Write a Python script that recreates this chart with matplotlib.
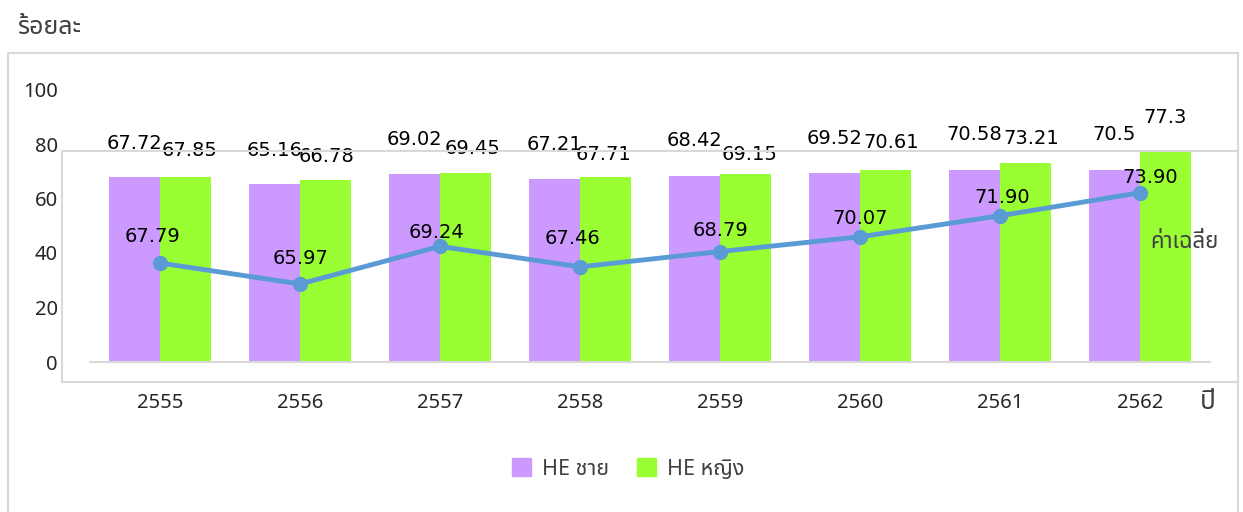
import matplotlib
matplotlib.use("Agg")
import matplotlib.pyplot as plt
from matplotlib.patches import Rectangle
import numpy as np

# data
years = ['2555', '2556', '2557', '2558', '2559', '2560', '2561', '2562']
he_male = [67.72, 65.16, 69.02, 67.21, 68.42, 69.52, 70.58, 70.5]
he_female = [67.85, 66.78, 69.45, 67.71, 69.15, 70.61, 73.21, 77.3]
average = [67.79, 65.97, 69.24, 67.46, 68.79, 70.07, 71.90, 73.90]
avg_labels = ['67.79', '65.97', '69.24', '67.46', '68.79', '70.07', '71.90', '73.90']

# label offsets in pixels (dx, dy above the mark)
male_dy = [34, 34, 34, 34, 35, 34, 35, 35]
female_dx = [4, 1, 7, -2, 4, 6, 6, 0]
female_dy = [27, 24, 24, 23, 19, 27, 24, 34]
avg_dx = [-7, 1, -4, -7, 0, 0, 2, 10]
avg_dy = [27, 25, 14, 28, 21, 18, 18, 15]

W, H = 1243, 512
THAI = ['Noto Sans Thai', 'DejaVu Sans']
LBL = ['DejaVu Sans']
TXT = '#404040'
GRID = '#d9d9d9'

fig = plt.figure(figsize=(W / 100, H / 100), dpi=100)

def fx(x):
    return x / W

def fy(y):
    return 1 - y / H

# frames round the chart and the plot area
fig.patches.append(Rectangle((fx(8), fy(530)), fx(1230), 477 / H, fill=False,
                             edgecolor=GRID, lw=1.5, transform=fig.transFigure))
fig.patches.append(Rectangle((fx(62), fy(382)), fx(1176), 231 / H, fill=False,
                             edgecolor=GRID, lw=1.5, transform=fig.transFigure))

ax = fig.add_axes([fx(90), fy(362), 1120 / W, 272.5 / H])
ax.patch.set_alpha(0)
x = np.arange(len(years))
bw = 0.364
ax.bar(x - bw / 2, he_male, bw, color='#cc99ff', label='HE ชาย', zorder=2)
ax.bar(x + bw / 2, he_female, bw, color='#99ff33', label='HE หญิง', zorder=2)
ax.set_xlim(-0.5, 7.5)
ax.set_ylim(0, 100)
ax.set_yticks([0, 20, 40, 60, 80, 100])
ax.set_xticks(x)
ax.set_xticklabels(years)
for s in ['top', 'right', 'left']:
    ax.spines[s].set_visible(False)
ax.spines['bottom'].set_color(GRID)
ax.spines['bottom'].set_linewidth(1.5)
ax.tick_params(length=0, labelsize=14.5, labelcolor='#262626')
ax.tick_params(axis='y', pad=23)
ax.tick_params(axis='x', pad=22)
for t in ax.get_xticklabels() + ax.get_yticklabels():
    t.set_family(THAI)

for i in range(len(years)):
    ax.annotate(f'{he_male[i]}', (x[i] - bw / 2, he_male[i]), xytext=(0, male_dy[i] * 0.72),
                textcoords='offset points', ha='center', va='center', fontsize=14,
                family=LBL, color='black', zorder=5)
    ax.annotate(f'{he_female[i]}', (x[i] + bw / 2, he_female[i]),
                xytext=(female_dx[i] * 0.72, female_dy[i] * 0.72),
                textcoords='offset points', ha='center', va='center', fontsize=14,
                family=LBL, color='black', zorder=5)

# average line on a hidden second scale
ax2 = ax.twinx()
ax2.set_ylim(59.19, 82.87)
ax2.axis('off')
ax2.plot(x, average, color='#5b9bd5', lw=3.5, marker='o', markersize=10, zorder=4)
for i in range(len(years)):
    ax2.annotate(avg_labels[i], (x[i], average[i]), xytext=(avg_dx[i] * 0.72, avg_dy[i] * 0.72),
                 textcoords='offset points', ha='center', va='center', fontsize=14,
                 family=LBL, color='black', zorder=5)

fig.text(fx(1150), fy(242), 'ค่าเฉลี่ย', ha='left', va='center', fontsize=16,
         family=THAI, color=TXT)
fig.text(fx(17), fy(27), 'ร้อยละ', ha='left', va='center', fontsize=18, family=THAI, color=TXT)
fig.text(fx(1200), fy(402), 'ปี', ha='left', va='center', fontsize=19, family=THAI, color=TXT)

handles = [Rectangle((0, 0), 1, 1, color='#cc99ff'), Rectangle((0, 0), 1, 1, color='#99ff33')]
fig.legend(handles, ['HE ชาย', 'HE หญิง'], loc='center', bbox_to_anchor=(fx(628), fy(469)),
           ncol=2, frameon=False, prop={'family': THAI, 'size': 15.5}, labelcolor=TXT,
           handlelength=0.9, handleheight=0.9, handletextpad=0.5, columnspacing=1.3)

fig.savefig('out.png', dpi=100)
